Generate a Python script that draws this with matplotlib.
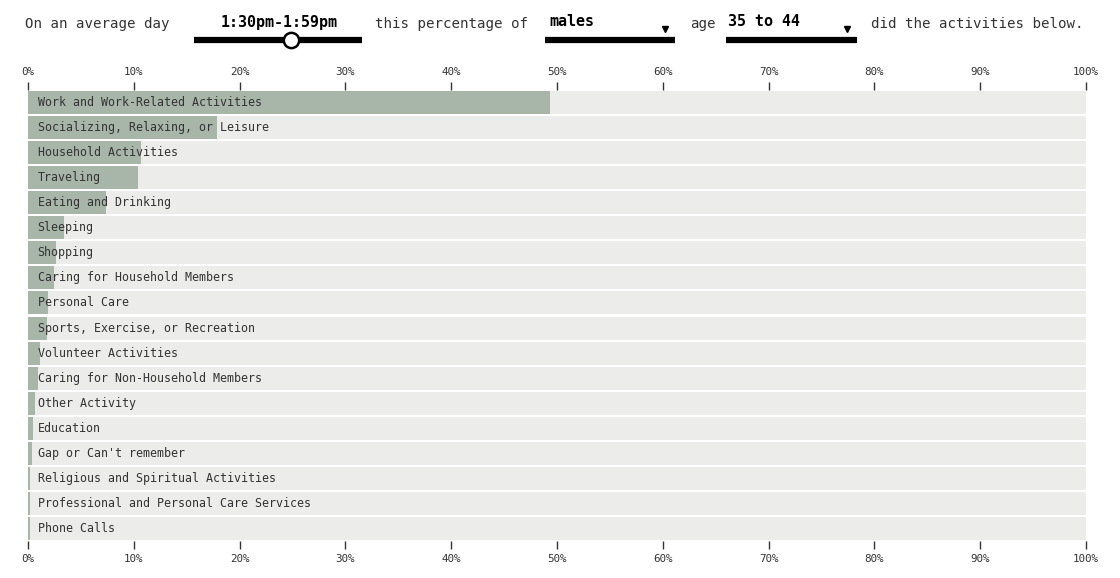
import matplotlib.pyplot as plt
from matplotlib.lines import Line2D

activities = [
    "Work and Work-Related Activities",
    "Socializing, Relaxing, or Leisure",
    "Household Activities",
    "Traveling",
    "Eating and Drinking",
    "Sleeping",
    "Shopping",
    "Caring for Household Members",
    "Personal Care",
    "Sports, Exercise, or Recreation",
    "Volunteer Activities",
    "Caring for Non-Household Members",
    "Other Activity",
    "Education",
    "Gap or Can't remember",
    "Religious and Spiritual Activities",
    "Professional and Personal Care Services",
    "Phone Calls",
]
percent = [49.3, 17.9, 10.7, 10.4, 7.4, 3.4, 2.6, 2.5, 1.9, 1.75,
           1.1, 0.9, 0.7, 0.5, 0.4, 0.2, 0.15, 0.15]
ticks = list(range(0, 101, 10))
tick_labels = [f"{t}%" for t in ticks]

time_label = "1:30pm-1:59pm"
sex_label = "males"
age_label = "35 to 44"

mono = "DejaVu Sans Mono"
txt = "#333333"
green = "#a8b6aa"
grey = "#ececea"

W, H = 1120, 578
fig = plt.figure(figsize=(W / 100, H / 100), dpi=100)
fig.patch.set_facecolor("white")


def fx(px):
    return px / W


def fy(py):
    return 1 - py / H


ax = fig.add_axes([fx(28), fy(541), fx(1086) - fx(28), fy(90) - fy(541)])
ypos = list(range(len(activities)))
ax.barh(ypos, [100] * len(ypos), height=0.92, color=grey, linewidth=0)
ax.barh(ypos, percent, height=0.92, color=green, linewidth=0)
for i, name in enumerate(activities):
    ax.annotate(name, xy=(0, i), xytext=(7, 0), textcoords="offset points",
                va="center", ha="left", fontsize=8.4, family=mono, color=txt)

ax.set_xlim(0, 100)
ax.set_ylim(len(ypos) - 0.5, -0.5)
ax.set_xticks(ticks)
ax.set_xticklabels(tick_labels)
ax.set_yticks([])
ax.tick_params(axis="x", top=True, labeltop=True, bottom=True, labelbottom=True,
               length=6, width=1, color=txt, labelsize=7.8, labelcolor=txt, pad=3)
for lab in ax.get_xticklabels():
    lab.set_family(mono)
for s in ax.spines.values():
    s.set_visible(False)

# header sentence
hy = fy(24)
fs = 10.2
fb = 10.8
fig.text(fx(25), hy, "On an average day", fontsize=fs, family=mono, color=txt, va="center")
fig.text(fx(279), fy(22), time_label, fontsize=fb, family=mono, weight="bold",
         color="black", va="center", ha="center")
fig.add_artist(Line2D([fx(194), fx(362)], [fy(40), fy(40)], color="black", lw=4.5,
                      transform=fig.transFigure, solid_capstyle="butt"))
fig.add_artist(Line2D([fx(291)], [fy(40)], marker="o", markersize=11, markerfacecolor="white",
                      markeredgecolor="black", markeredgewidth=1.8, transform=fig.transFigure))
fig.text(fx(375), hy, "this percentage of", fontsize=fs, family=mono, color=txt, va="center")

fig.text(fx(549), fy(22), sex_label, fontsize=fb, family=mono, weight="bold",
         color="black", va="center")
fig.add_artist(Line2D([fx(545), fx(675)], [fy(40), fy(40)], color="black", lw=4.5,
                      transform=fig.transFigure, solid_capstyle="butt"))
fig.add_artist(Line2D([fx(665)], [fy(29)], marker="v", markersize=5, color="black",
                      transform=fig.transFigure))

fig.text(fx(690), hy, "age", fontsize=fs, family=mono, color=txt, va="center")
fig.text(fx(728), fy(22), age_label, fontsize=fb, family=mono, weight="bold",
         color="black", va="center")
fig.add_artist(Line2D([fx(726), fx(857)], [fy(40), fy(40)], color="black", lw=4.5,
                      transform=fig.transFigure, solid_capstyle="butt"))
fig.add_artist(Line2D([fx(847)], [fy(29)], marker="v", markersize=5, color="black",
                      transform=fig.transFigure))

fig.text(fx(871), hy, "did the activities below.", fontsize=fs, family=mono, color=txt, va="center")

fig.savefig("out.png", dpi=100)
